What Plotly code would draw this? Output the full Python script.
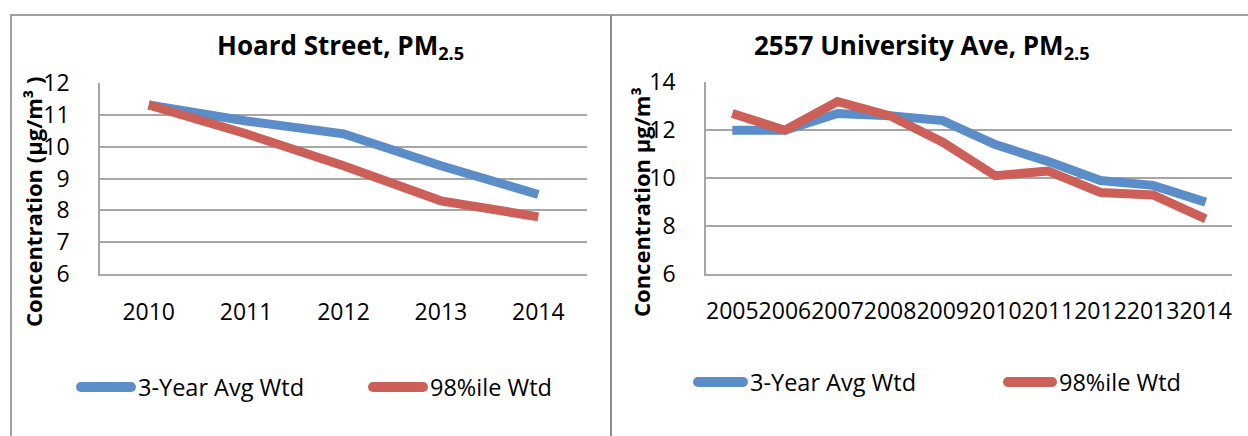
import plotly.graph_objects as go

# --- data -------------------------------------------------------------
hoard_years = ["2010", "2011", "2012", "2013", "2014"]
hoard_avg = [11.3, 10.8, 10.4, 9.4, 8.5]
hoard_p98 = [11.3, 10.4, 9.4, 8.3, 7.8]

univ_years = ["2005", "2006", "2007", "2008", "2009",
              "2010", "2011", "2012", "2013", "2014"]
univ_avg = [12.0, 12.0, 12.7, 12.6, 12.4, 11.4, 10.7, 9.9, 9.7, 9.0]
univ_p98 = [12.7, 12.0, 13.2, 12.6, 11.5, 10.1, 10.3, 9.4, 9.3, 8.3]

series_names = ["3-Year Avg Wtd", "98%ile Wtd"]
titles = ["Hoard Street, PM<sub>2.5</sub>", "2557 University Ave, PM<sub>2.5</sub>"]
ytitles = ["Concentration (µg/m³ )", "Concentration µg/m³"]

# --- styling ----------------------------------------------------------
W, H = 1248, 436
FONT = "Open Sans"
BLUE = "rgb(91,142,200)"
RED = "rgb(204,95,87)"
GRID = "#a6a6a6"
FRAME = "#a0a0a0"
LW = 9


def px(x):
    return x / W


def py(y):
    return 1 - y / H


fig = go.Figure()

fig.add_trace(go.Scatter(x=hoard_years, y=hoard_avg, mode="lines", name=series_names[0],
                         line=dict(color=BLUE, width=LW), xaxis="x", yaxis="y", showlegend=False))
fig.add_trace(go.Scatter(x=hoard_years, y=hoard_p98, mode="lines", name=series_names[1],
                         line=dict(color=RED, width=LW), xaxis="x", yaxis="y", showlegend=False))
fig.add_trace(go.Scatter(x=univ_years, y=univ_avg, mode="lines", name=series_names[0],
                         line=dict(color=BLUE, width=LW), xaxis="x2", yaxis="y2", showlegend=False))
fig.add_trace(go.Scatter(x=univ_years, y=univ_p98, mode="lines", name=series_names[1],
                         line=dict(color=RED, width=LW), xaxis="x2", yaxis="y2", showlegend=False))

tick_font = dict(family=FONT, size=23, color="#000000")

xcommon = dict(type="category", showgrid=False, showline=True, linecolor=GRID, linewidth=1.5,
               ticks="", tickfont=tick_font, tickangle=0, ticklabelstandoff=16,
               fixedrange=True, zeroline=False, automargin=False)
ycommon = dict(showgrid=True, gridcolor=GRID, gridwidth=1.5, showline=True, linecolor=GRID,
               linewidth=1.5, ticks="", tickfont=tick_font, ticklabelstandoff=24,
               zeroline=False, fixedrange=True, automargin=False)

fig.update_layout(
    width=W, height=H,
    margin=dict(l=0, r=0, t=0, b=0, pad=0, autoexpand=False),
    paper_bgcolor="white", plot_bgcolor="white",
    font=dict(family=FONT, color="#000000"),
    xaxis=dict(xcommon, domain=[px(100), px(587)], range=[-0.5, len(hoard_years) - 0.5],
               anchor="y"),
    yaxis=dict(ycommon, domain=[py(274.3), py(82.7)], range=[6, 12], dtick=1, anchor="x"),
    xaxis2=dict(xcommon, domain=[px(706), px(1232)], range=[-0.5, len(univ_years) - 0.5],
                anchor="y2"),
    yaxis2=dict(ycommon, domain=[py(274), py(82.3)], range=[6, 14], dtick=2, anchor="x2"),
)

annotations = []
shapes = []

# panel titles
for text, cx in zip(titles, [341, 922]):
    annotations.append(dict(text="<b>" + text + "</b>", x=px(cx), y=py(46), xref="paper",
                            yref="paper", xanchor="center", yanchor="middle", showarrow=False,
                            font=dict(family=FONT, size=26, color="#000000")))

# y-axis titles
for text, cx in zip(ytitles, [33, 641]):
    annotations.append(dict(text="<b>" + text + "</b>", x=px(cx), y=py(202), xref="paper",
                            yref="paper", xanchor="center", yanchor="middle", textangle=-90,
                            showarrow=False, font=dict(family=FONT, size=22, color="#000000")))

# legends: swatch + label for each panel
legend_rows = [
    (387, [(76, 136, BLUE), (368, 428, RED)]),
    (382, [(693, 748, BLUE), (1003, 1057, RED)]),
]
for ly, entries in legend_rows:
    for (x0, x1, col), name in zip(entries, series_names):
        r = 5
        shapes.append(dict(type="line", xref="paper", yref="paper", x0=px(x0 + r), x1=px(x1 - r),
                           y0=py(ly), y1=py(ly), line=dict(color=col, width=2 * r)))
        for cxp in (x0 + r, x1 - r):
            shapes.append(dict(type="circle", xref="paper", yref="paper",
                               x0=px(cxp - r), x1=px(cxp + r), y0=py(ly + r), y1=py(ly - r),
                               fillcolor=col, line=dict(width=0)))
        annotations.append(dict(text=name, x=px(x1), y=py(ly), xref="paper", yref="paper",
                                xanchor="left", yanchor="middle", showarrow=False,
                                font=dict(family=FONT, size=23.5, color="#000000")))

# outer frame and divider between the two panels
shapes.append(dict(type="line", xref="paper", yref="paper", x0=px(10), x1=1, y0=py(15), y1=py(15),
                   line=dict(color=FRAME, width=2)))
shapes.append(dict(type="line", xref="paper", yref="paper", x0=px(11), x1=px(11), y0=py(15), y1=0,
                   line=dict(color=FRAME, width=2)))
shapes.append(dict(type="line", xref="paper", yref="paper", x0=px(611), x1=px(611), y0=py(15),
                   y1=0, line=dict(color="#8c8c8c", width=2)))

fig.update_layout(annotations=annotations, shapes=shapes)

fig.write_html("out.html", config=dict(displayModeBar=False))
